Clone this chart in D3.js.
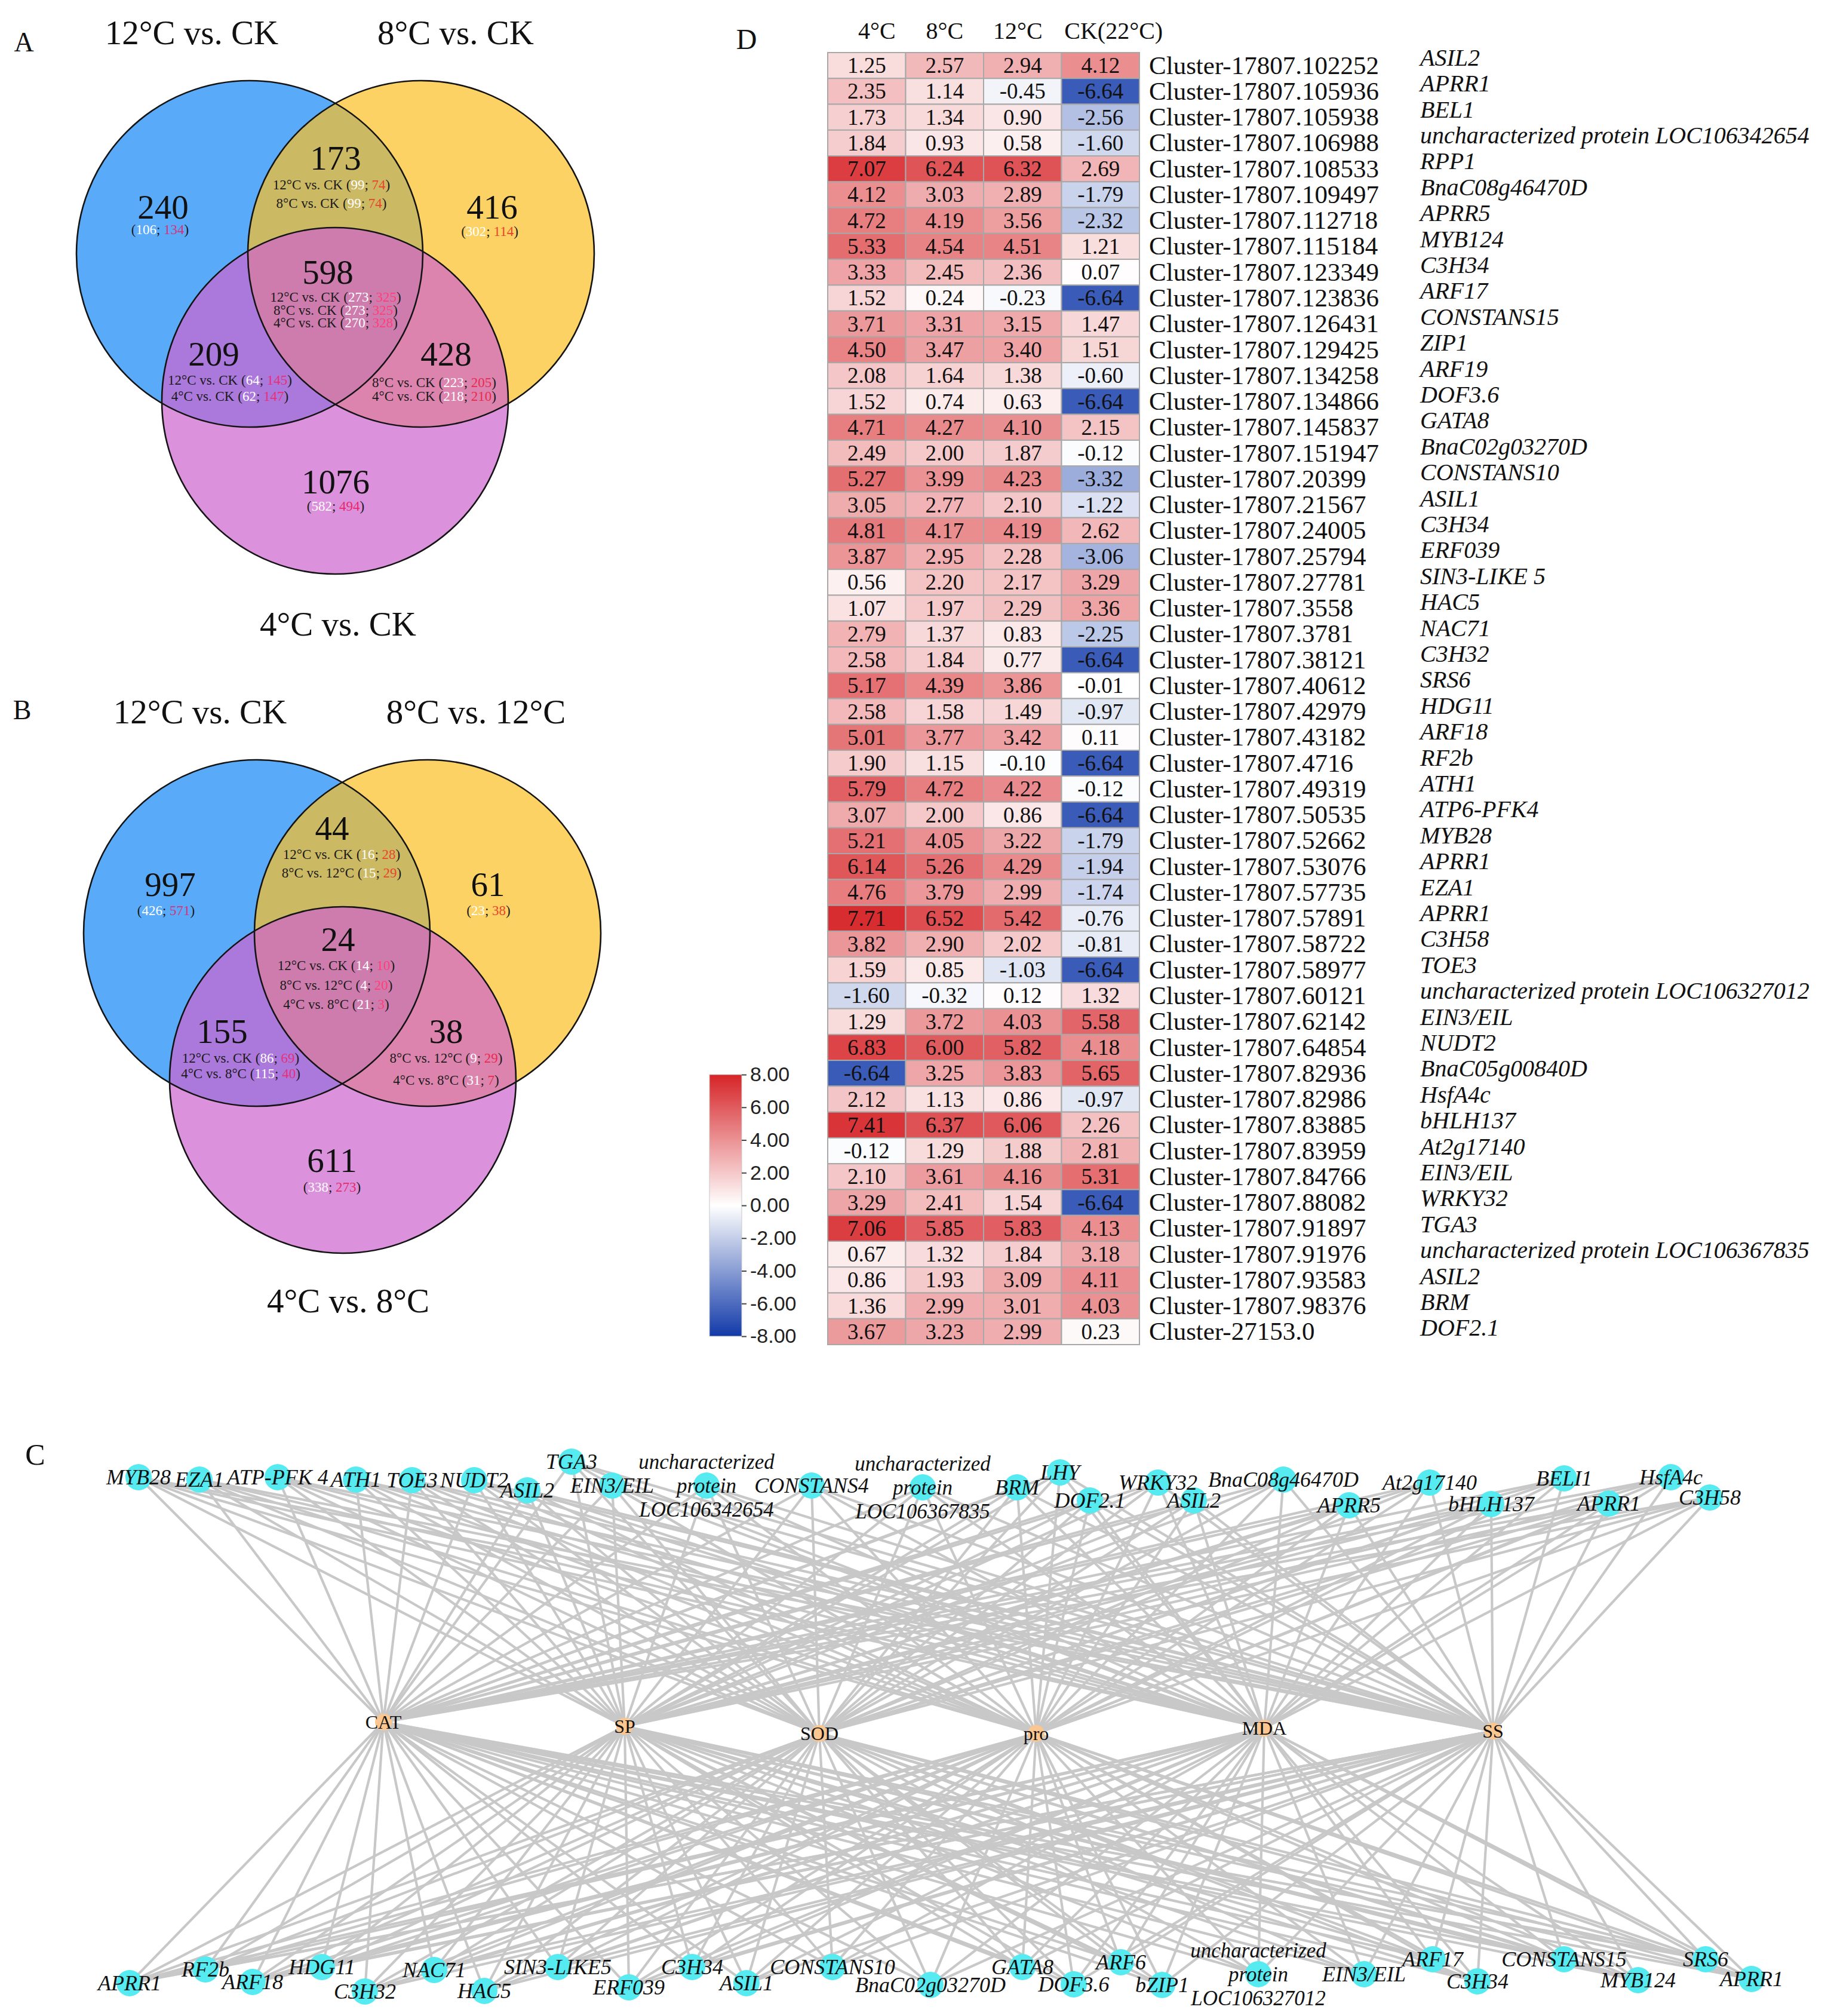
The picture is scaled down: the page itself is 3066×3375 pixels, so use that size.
<!DOCTYPE html>
<html lang="en">
<head>
    <meta charset="UTF-8">
    <script src="https://d3js.org/d3.v7.min.js"></script>
    <title>Cold stress DEGs: Venn, heatmap and network</title>
    <style>
        body { margin: 0; background: #fff; }
        svg text { font-family: "Liberation Serif", "Times New Roman", serif; }
    </style>
</head>
<body>
<svg id="fig"></svg>
<script>
// ---------- data ----------
// Venn A
const vennATitles = ["12°C vs. CK", "8°C vs. CK", "4°C vs. CK"];
const vennATotals = [240, 173, 416, 598, 209, 428, 1076];
const vennALines = [
    [["", 106, 134]],
    [["12°C vs. CK", 99, 74], ["8°C vs. CK", 99, 74]],
    [["", 302, 114]],
    [["12°C vs. CK", 273, 325], ["8°C vs. CK", 273, 325], ["4°C vs. CK", 270, 328]],
    [["12°C vs. CK", 64, 145], ["4°C vs. CK", 62, 147]],
    [["8°C vs. CK", 223, 205], ["4°C vs. CK", 218, 210]],
    [["", 582, 494]]
];
// Venn B
const vennBTitles = ["12°C vs. CK", "8°C vs. 12°C", "4°C vs. 8°C"];
const vennBTotals = [997, 44, 61, 24, 155, 38, 611];
const vennBLines = [
    [["", 426, 571]],
    [["12°C vs. CK", 16, 28], ["8°C vs. 12°C", 15, 29]],
    [["", 23, 38]],
    [["12°C vs. CK", 14, 10], ["8°C vs. 12°C", 4, 20], ["4°C vs. 8°C", 21, 3]],
    [["12°C vs. CK", 86, 69], ["4°C vs. 8°C", 115, 40]],
    [["8°C vs. 12°C", 9, 29], ["4°C vs. 8°C", 31, 7]],
    [["", 338, 273]]
];

// Heatmap D
const heatCols = ["4°C", "8°C", "12°C", "CK(22°C)"];
const clusterIds = [
    "Cluster-17807.102252", "Cluster-17807.105936", "Cluster-17807.105938", "Cluster-17807.106988",
    "Cluster-17807.108533", "Cluster-17807.109497", "Cluster-17807.112718", "Cluster-17807.115184",
    "Cluster-17807.123349", "Cluster-17807.123836", "Cluster-17807.126431", "Cluster-17807.129425",
    "Cluster-17807.134258", "Cluster-17807.134866", "Cluster-17807.145837", "Cluster-17807.151947",
    "Cluster-17807.20399", "Cluster-17807.21567", "Cluster-17807.24005", "Cluster-17807.25794",
    "Cluster-17807.27781", "Cluster-17807.3558", "Cluster-17807.3781", "Cluster-17807.38121",
    "Cluster-17807.40612", "Cluster-17807.42979", "Cluster-17807.43182", "Cluster-17807.4716",
    "Cluster-17807.49319", "Cluster-17807.50535", "Cluster-17807.52662", "Cluster-17807.53076",
    "Cluster-17807.57735", "Cluster-17807.57891", "Cluster-17807.58722", "Cluster-17807.58977",
    "Cluster-17807.60121", "Cluster-17807.62142", "Cluster-17807.64854", "Cluster-17807.82936",
    "Cluster-17807.82986", "Cluster-17807.83885", "Cluster-17807.83959", "Cluster-17807.84766",
    "Cluster-17807.88082", "Cluster-17807.91897", "Cluster-17807.91976", "Cluster-17807.93583",
    "Cluster-17807.98376", "Cluster-27153.0"
];
const geneNames = [
    "ASIL2", "APRR1", "BEL1", "uncharacterized protein LOC106342654", "RPP1", "BnaC08g46470D",
    "APRR5", "MYB124", "C3H34", "ARF17", "CONSTANS15", "ZIP1", "ARF19", "DOF3.6", "GATA8",
    "BnaC02g03270D", "CONSTANS10", "ASIL1", "C3H34", "ERF039", "SIN3-LIKE 5", "HAC5", "NAC71",
    "C3H32", "SRS6", "HDG11", "ARF18", "RF2b", "ATH1", "ATP6-PFK4", "MYB28", "APRR1", "EZA1",
    "APRR1", "C3H58", "TOE3", "uncharacterized protein LOC106327012", "EIN3/EIL", "NUDT2",
    "BnaC05g00840D", "HsfA4c", "bHLH137", "At2g17140", "EIN3/EIL", "WRKY32", "TGA3",
    "uncharacterized protein LOC106367835", "ASIL2", "BRM", "DOF2.1"
];
const values4C = [1.25, 2.35, 1.73, 1.84, 7.07, 4.12, 4.72, 5.33, 3.33, 1.52, 3.71, 4.50, 2.08, 1.52,
    4.71, 2.49, 5.27, 3.05, 4.81, 3.87, 0.56, 1.07, 2.79, 2.58, 5.17, 2.58, 5.01, 1.90, 5.79, 3.07,
    5.21, 6.14, 4.76, 7.71, 3.82, 1.59, -1.60, 1.29, 6.83, -6.64, 2.12, 7.41, -0.12, 2.10, 3.29,
    7.06, 0.67, 0.86, 1.36, 3.67];
const values8C = [2.57, 1.14, 1.34, 0.93, 6.24, 3.03, 4.19, 4.54, 2.45, 0.24, 3.31, 3.47, 1.64, 0.74,
    4.27, 2.00, 3.99, 2.77, 4.17, 2.95, 2.20, 1.97, 1.37, 1.84, 4.39, 1.58, 3.77, 1.15, 4.72, 2.00,
    4.05, 5.26, 3.79, 6.52, 2.90, 0.85, -0.32, 3.72, 6.00, 3.25, 1.13, 6.37, 1.29, 3.61, 2.41,
    5.85, 1.32, 1.93, 2.99, 3.23];
const values12C = [2.94, -0.45, 0.90, 0.58, 6.32, 2.89, 3.56, 4.51, 2.36, -0.23, 3.15, 3.40, 1.38, 0.63,
    4.10, 1.87, 4.23, 2.10, 4.19, 2.28, 2.17, 2.29, 0.83, 0.77, 3.86, 1.49, 3.42, -0.10, 4.22, 0.86,
    3.22, 4.29, 2.99, 5.42, 2.02, -1.03, 0.12, 4.03, 5.82, 3.83, 0.86, 6.06, 1.88, 4.16, 1.54,
    5.83, 1.84, 3.09, 3.01, 2.99];
const valuesCK = [4.12, -6.64, -2.56, -1.60, 2.69, -1.79, -2.32, 1.21, 0.07, -6.64, 1.47, 1.51, -0.60, -6.64,
    2.15, -0.12, -3.32, -1.22, 2.62, -3.06, 3.29, 3.36, -2.25, -6.64, -0.01, -0.97, 0.11, -6.64, -0.12, -6.64,
    -1.79, -1.94, -1.74, -0.76, -0.81, -6.64, 1.32, 5.58, 4.18, 5.65, -0.97, 2.26, 2.81, 5.31, -6.64,
    4.13, 3.18, 4.11, 4.03, 0.23];
const legendTicks = [-8, -6, -4, -2, 0, 2, 4, 6, 8];

// Network C
const topGenes = ["MYB28", "EZA1", "ATP-PFK 4", "ATH1", "TOE3", "NUDT2", "ASIL2", "TGA3", "EIN3/EIL",
    "uncharacterized\nprotein\nLOC106342654", "CONSTANS4", "uncharacterized\nprotein\nLOC106367835",
    "BRM", "LHY", "DOF2.1", "WRKY32", "ASIL2", "BnaC08g46470D", "APRR5", "At2g17140", "bHLH137",
    "BELI1", "APRR1", "HsfA4c", "C3H58"];
const bottomGenes = ["APRR1", "RF2b", "ARF18", "HDG11", "C3H32", "NAC71", "HAC5", "SIN3-LIKE5", "ERF039",
    "C3H34", "ASIL1", "CONSTANS10", "BnaC02g03270D", "GATA8", "DOF3.6", "ARF6", "bZIP1",
    "uncharacterized\nprotein\nLOC106327012", "EIN3/EIL", "ARF17", "C3H34", "CONSTANS15", "MYB124",
    "SRS6", "APRR1"];
const traits = ["CAT", "SP", "SOD", "pro", "MDA", "SS"];

// ---------- layout (positions only) ----------
const vennLayoutA = {
    circles: [[418, 425], [705, 425], [561, 671]],
    titles: [[321, 74], [763, 74], [566, 1064]],
    // numX, numY, subX, subY, line gap
    regions: [[273, 347, 268, 384, 0], [562, 265, 555, 309, 31], [824, 347, 820, 387, 0],
              [549, 456, 562, 497, 21.5], [358, 593, 385, 636, 27], [747, 593, 727, 640, 23],
              [562, 807, 562, 847, 0]],
    letter: ["A", 40, 86]
};
const vennLayoutB = {
    circles: [[430, 1562], [716, 1562], [574, 1808]],
    titles: [[335, 1211], [797, 1211], [583, 2197]],
    regions: [[285, 1481, 278, 1524, 0], [556, 1387, 572, 1430, 31], [817, 1481, 818, 1524, 0],
              [566, 1573, 563, 1616, 32.5], [372, 1727, 403, 1771, 26], [747, 1727, 747, 1771, 37],
              [556, 1943, 556, 1987, 0]],
    letter: ["B", 37, 1204]
};
const regionRed = ["#d2357a", "#e8452c", "#e8452c", "#ff3f7a", "#e6307c", "#ea2a4e", "#e62a6a"];
const headerShift = [17, 0, -8, 22];
const topGeneX = [232, 334, 465, 596, 690, 794, 883, 957, 1025, 1183, 1359, 1545, 1703, 1775, 1825,
    1939, 1999, 2149, 2259, 2394, 2497, 2619, 2694, 2798, 2863];
const topGeneY = [2473, 2477, 2473, 2477, 2478, 2478, 2495, 2447, 2487, 2487, 2487, 2490, 2490, 2465, 2512,
    2482, 2512, 2477, 2520, 2482, 2518, 2475, 2517, 2473, 2507];
const bottomGeneX = [217, 344, 423, 539, 611, 727, 811, 934, 1053, 1159, 1250, 1394, 1558, 1712, 1798,
    1877, 1946, 2107, 2284, 2399, 2474, 2619, 2743, 2856, 2933];
const bottomGeneY = [3320, 3297, 3318, 3293, 3334, 3298, 3333, 3293, 3327, 3293, 3320, 3293, 3323, 3293, 3322,
    3285, 3323, 3305, 3305, 3280, 3317, 3280, 3315, 3280, 3313];
const traitX = [642, 1046, 1372, 1735, 2117, 2500];
const traitY = [2883, 2890, 2902, 2902, 2893, 2898];

const W = 3066, H = 3375;
const svg = d3.select("#fig")
    .attr("width", W).attr("height", H)
    .attr("viewBox", `0 0 ${W} ${H}`);
svg.append("rect").attr("width", W).attr("height", H).attr("fill", "#fff");

// ---------- Venn diagrams ----------
const vennFill = ["rgb(20,134,248)", "rgb(252,191,34)", "rgb(205,98,205)"];

function drawVenn(titles, totals, lines, lay) {
    const g = svg.append("g");
    g.selectAll("circle.fill").data(lay.circles).enter().append("circle")
        .attr("cx", d => d[0]).attr("cy", d => d[1]).attr("r", 290)
        .attr("fill", (d, i) => vennFill[i]).attr("fill-opacity", 0.7);
    g.selectAll("circle.edge").data(lay.circles).enter().append("circle")
        .attr("cx", d => d[0]).attr("cy", d => d[1]).attr("r", 290)
        .attr("fill", "none").attr("stroke", "#141414").attr("stroke-width", 2.6);

    g.selectAll("text.title").data(titles).enter().append("text")
        .attr("x", (d, i) => lay.titles[i][0]).attr("y", (d, i) => lay.titles[i][1])
        .attr("text-anchor", "middle").attr("font-size", 57).attr("fill", "#111")
        .text(d => d);

    g.append("text").attr("x", lay.letter[1]).attr("y", lay.letter[2])
        .attr("text-anchor", "middle").attr("font-size", 46).attr("fill", "#111")
        .text(lay.letter[0]);

    totals.forEach((t, i) => {
        const r = lay.regions[i];
        g.append("text").attr("x", r[0]).attr("y", r[1] + 19)
            .attr("text-anchor", "middle").attr("font-size", 57).attr("fill", "#111")
            .text(t);
        lines[i].forEach((ln, j) => {
            const tx = g.append("text").attr("x", r[2]).attr("y", r[3] + j * r[4] + 8)
                .attr("text-anchor", "middle").attr("font-size", 23).attr("fill", "#1a1a1a");
            tx.append("tspan").text((ln[0] ? ln[0] + " " : "") + "(");
            tx.append("tspan").attr("fill", "#fff").text(ln[1]);
            tx.append("tspan").text("; ");
            tx.append("tspan").attr("fill", regionRed[i]).text(ln[2]);
            tx.append("tspan").text(")");
        });
    });
}
drawVenn(vennATitles, vennATotals, vennALines, vennLayoutA);
drawVenn(vennBTitles, vennBTotals, vennBLines, vennLayoutB);

// ---------- Heatmap ----------
const heatRows = clusterIds.map((id, i) => ({
    id, gene: geneNames[i],
    vals: [values4C[i], values8C[i], values12C[i], valuesCK[i]]
}));
const color = d3.scaleLinear().domain([-8, 0, 8])
    .range(["rgb(18,58,168)", "#ffffff", "rgb(214,36,40)"]).interpolate(d3.interpolateRgb);
const xCol = d3.scaleBand().domain(heatCols).range([1386, 1908]);
const yRow = d3.scaleBand().domain(d3.range(heatRows.length)).range([88, 2251]);
const yGene = d3.scaleBand().domain(d3.range(heatRows.length)).range([75, 2245]);

const hm = svg.append("g");
hm.append("text").attr("x", 1250).attr("y", 82).attr("text-anchor", "middle")
    .attr("font-size", 48).attr("fill", "#111").text("D");
hm.selectAll("text.col").data(heatCols).enter().append("text")
    .attr("x", (d, i) => xCol(d) + xCol.bandwidth() / 2 + headerShift[i]).attr("y", 65)
    .attr("text-anchor", "middle").attr("font-size", 40).attr("fill", "#111").text(d => d);

const rowG = hm.selectAll("g.row").data(heatRows).enter().append("g")
    .attr("transform", (d, i) => `translate(0,${yRow(i)})`);
rowG.selectAll("rect").data(d => d.vals.map((v, k) => ({ v, c: heatCols[k] }))).enter().append("rect")
    .attr("x", d => xCol(d.c)).attr("y", 0)
    .attr("width", xCol.bandwidth()).attr("height", yRow.bandwidth())
    .attr("fill", d => color(d.v)).attr("stroke", "#a8a8a8").attr("stroke-width", 2);
rowG.selectAll("text.val").data(d => d.vals.map((v, k) => ({ v, c: heatCols[k] }))).enter().append("text")
    .attr("x", d => xCol(d.c) + xCol.bandwidth() / 2).attr("y", yRow.bandwidth() / 2 + 12.5)
    .attr("text-anchor", "middle").attr("font-size", 37).attr("fill", "#111")
    .text(d => d.v.toFixed(2));
rowG.append("text").attr("x", 1924).attr("y", yRow.bandwidth() / 2 + 14)
    .attr("font-size", 43).attr("fill", "#111").text(d => d.id);
hm.selectAll("text.gene").data(heatRows).enter().append("text")
    .attr("x", 2378).attr("y", (d, i) => yGene(i) + yGene.bandwidth() / 2 + 13)
    .attr("font-size", 40).attr("font-style", "italic").attr("fill", "#111").text(d => d.gene);

// colour legend
const legY = d3.scaleLinear().domain([-8, 8]).range([2237, 1799]);
const grad = svg.append("defs").append("linearGradient").attr("id", "legGrad")
    .attr("x1", 0).attr("y1", 1).attr("x2", 0).attr("y2", 0);
legendTicks.forEach(t => {
    grad.append("stop").attr("offset", (t + 8) / 16).attr("stop-color", color(t));
});
hm.append("rect").attr("x", 1188).attr("y", legY(8)).attr("width", 54)
    .attr("height", legY(-8) - legY(8)).attr("fill", "url(#legGrad)")
    .attr("stroke", "#c8c8c8").attr("stroke-width", 1);
const legAxis = hm.append("g").attr("transform", "translate(1242,0)")
    .call(d3.axisRight(legY).tickValues(legendTicks).tickSize(8).tickPadding(6)
        .tickFormat(d => d.toFixed(2)));
legAxis.select(".domain").remove();
legAxis.selectAll("line").attr("stroke", "#444").attr("stroke-width", 2);
legAxis.selectAll("text").attr("font-size", 34).attr("fill", "#222")
    .style("font-family", "'Liberation Sans', Arial, sans-serif");

// ---------- Network ----------
const net = svg.append("g");
net.append("text").attr("x", 59).attr("y", 2452).attr("text-anchor", "middle")
    .attr("font-size", 50).attr("fill", "#111").text("C");

const traitNodes = traits.map((t, i) => ({ name: t, x: traitX[i], y: traitY[i] }));
const geneNodes = topGenes.map((g, i) => ({ name: g, x: topGeneX[i], y: topGeneY[i] }))
    .concat(bottomGenes.map((g, i) => ({ name: g, x: bottomGeneX[i], y: bottomGeneY[i] })));
const links = [];
geneNodes.forEach(g => traitNodes.forEach(t => links.push({ s: g, t })));

net.selectAll("line.link").data(links).enter().append("line")
    .attr("x1", d => d.s.x).attr("y1", d => d.s.y)
    .attr("x2", d => d.t.x).attr("y2", d => d.t.y)
    .attr("stroke", "#c8c8c8").attr("stroke-width", 4.2);

net.selectAll("circle.gene").data(geneNodes).enter().append("circle")
    .attr("cx", d => d.x).attr("cy", d => d.y).attr("r", 22).attr("fill", "#55ebf1");
net.selectAll("circle.trait").data(traitNodes).enter().append("circle")
    .attr("cx", d => d.x).attr("cy", d => d.y).attr("r", 14).attr("fill", "#fcc690");

geneNodes.forEach(d => {
    const parts = d.name.split("\n");
    const t = net.append("text").attr("text-anchor", "middle")
        .attr("font-size", parts.length > 1 ? 35 : 36).attr("font-style", "italic").attr("fill", "#111");
    parts.forEach((p, k) => {
        t.append("tspan").attr("x", d.x).attr("y", d.y + 12 + (k - (parts.length - 1) / 2) * 40).text(p);
    });
});
net.selectAll("text.trait").data(traitNodes).enter().append("text")
    .attr("x", d => d.x).attr("y", d => d.y + 11)
    .attr("text-anchor", "middle").attr("font-size", 32).attr("fill", "#111").text(d => d.name);
</script>
</body>
</html>
